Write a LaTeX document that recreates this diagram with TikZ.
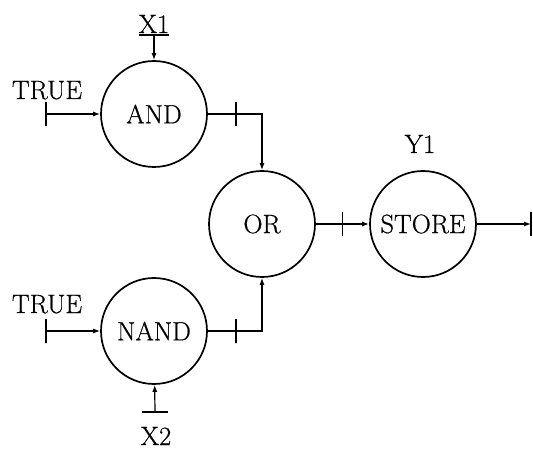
\documentclass[tikz,border=0pt]{standalone}
\usepackage{fontspec}
\newfontfamily\gatefont{Latin Modern Roman}[FakeBold=0.6]
\usetikzlibrary{arrows.meta}
\begin{document}
\begin{tikzpicture}[x=1pt,y=-1pt,
  gate/.style={circle,draw,line width=1.7pt,minimum size=106pt,inner sep=0pt,
    font=\gatefont\fontsize{26.5}{30}\selectfont},
  lbl/.style={font=\gatefont\fontsize{26.5}{30}\selectfont,inner sep=0pt,anchor=base},
  wire/.style={line width=1.2pt,-{Latex[length=7pt,width=5pt]}},
  tick/.style={draw,line width=1.2pt,minimum width=0pt,minimum height=24pt,inner sep=0pt},
  bar/.style={line width=2.6pt}]
\useasboundingbox (0,0) rectangle (533,449);

% gates
\node[gate] (and)   at (154,114) {AND};
\node[gate] (or)    at (262,224) {OR};
\node[gate] (store) at (423,224) {STORE};
\node[gate] (nand)  at (154,331) {NAND};

% labels
\node[lbl] (true1) at (47,99)   {TRUE};
\node[lbl] (true2) at (47,313)  {TRUE};
\node[lbl] (x1)    at (154,33)  {X1};
\node[lbl] (x2)    at (156,445) {X2};
\node[lbl] (y1)    at (420,153) {Y1};

% free ends of the wires
\coordinate (in1) at (46,114);
\coordinate (in2) at (46,331);
\coordinate (x2b) at (155,412);
\coordinate (out) at (531,224);

% inputs
\draw[wire] (in1) node[tick]{} -- (and);
\draw[wire] (in2) node[tick]{} -- (nand);
\draw[bar] ([yshift=-2pt]x1.south west) -- ([yshift=-2pt]x1.south east);
\draw[wire] ([yshift=-2pt]x1.south) -- (and);
\draw[bar] ([xshift=-13pt]x2b) -- ([xshift=13pt]x2b);
\draw[wire] (x2b) -- (nand);

% gate outputs
\draw[wire] (and.east) -| node[tick,pos=0.26]{} (or.north);
\draw[wire] (nand.east) -| node[tick,pos=0.26]{} (or.south);
\draw[wire] (or) -- node[tick,pos=0.5]{} (store);
\draw[wire] (store) -- (out) node[tick]{};
\end{tikzpicture}
\end{document}
